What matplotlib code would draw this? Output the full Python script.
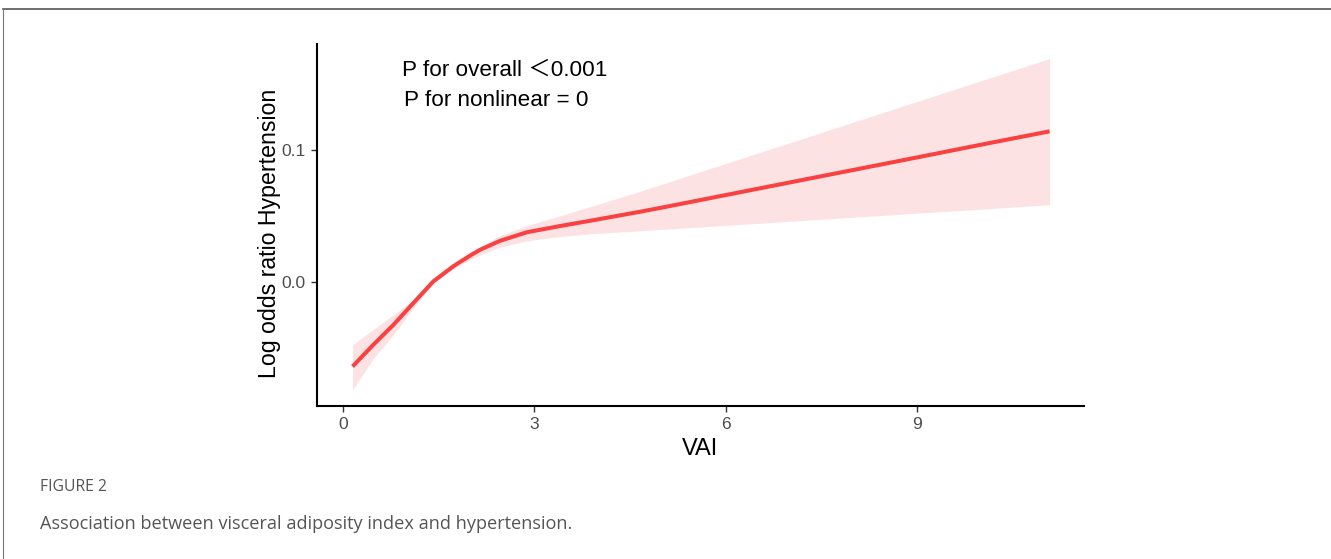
import matplotlib
matplotlib.use("Agg")
import matplotlib.pyplot as plt
from matplotlib.lines import Line2D

# Data
vai = [0.15, 0.475, 0.79, 1.10, 1.415, 1.73, 1.99, 2.15, 2.46, 2.88, 3.40, 3.92,
       4.65, 5.0, 6.0, 7.0, 8.0, 9.0, 10.0, 11.07]
log_or = [-0.0641, -0.0477, -0.0326, -0.0162, 0.0003, 0.0118, 0.0198, 0.0243,
          0.0310, 0.0375, 0.0422, 0.0466, 0.0530, 0.0562, 0.0657, 0.0752, 0.0847,
          0.0942, 0.1038, 0.1139]
upper = [-0.0477, -0.036, -0.025, -0.014, 0.0013, 0.0135, 0.0215, 0.0265, 0.0350,
         0.0425, 0.0500, 0.0576, 0.0684, 0.0739, 0.0896, 0.1052, 0.1209, 0.1366,
         0.1522, 0.169]
lower = [-0.0818, -0.058, -0.040, -0.020, -0.0008, 0.0098, 0.0168, 0.0205, 0.0262,
         0.0310, 0.0343, 0.0365, 0.0386, 0.0397, 0.0427, 0.0458, 0.0489, 0.052,
         0.055, 0.0583]
xticks = [0, 3, 6, 9]
yticks = [0.0, 0.1]
ytick_labels = ["0.0", "0.1"]

W, H = 1331, 559
fig = plt.figure(figsize=(W / 100, H / 100), dpi=100)
fig.patch.set_facecolor("white")

ax = fig.add_axes([317 / W, (H - 406) / H, (1084 - 317) / W, (406 - 44) / H])
ax.fill_between(vai, lower, upper, color="#FDE2E3", linewidth=0)
ax.plot(vai, log_or, color="#F94141", linewidth=2.9, solid_capstyle="butt",
        solid_joinstyle="round")

ax.set_xlim(-0.407, 11.61)
ax.set_ylim(-0.094, 0.180)
ax.set_xticks(xticks)
ax.set_yticks(yticks)
ax.set_yticklabels(ytick_labels)
for s in ["top", "right"]:
    ax.spines[s].set_visible(False)
for s in ["left", "bottom"]:
    ax.spines[s].set_linewidth(1.5)
    ax.spines[s].set_color("black")
ax.tick_params(axis="both", length=4, width=1.0, color="#333333",
               labelsize=12.5, labelcolor="#4d4d4d", pad=4)
for lab in ax.get_xticklabels() + ax.get_yticklabels():
    lab.set_family("Liberation Sans")

ax.set_xlabel("VAI", fontsize=17, family="Liberation Sans", labelpad=4)
ax.set_ylabel("Log odds ratio Hypertension", fontsize=16.7, family="Liberation Sans")
ax.yaxis.set_label_coords(-0.047, 0.478)

fig.text(402 / W, 1 - 70 / H, "P for overall \uFF1C0.001", fontsize=16.2,
         family=["Liberation Sans", "Noto Sans CJK SC"], va="center", ha="left")
fig.text(404 / W, 1 - 100 / H, "P for nonlinear = 0", fontsize=16.2,
         family="Liberation Sans", va="center", ha="left")

# Caption
fig.text(40 / W, 1 - 487 / H, "FIGURE 2", fontsize=11.3, family="Open Sans",
         color="#555555", va="center", ha="left")
fig.text(40 / W, 1 - 524 / H,
         "Association between visceral adiposity index and hypertension.",
         fontsize=13.1, family="Open Sans", color="#555555", va="center", ha="left")

# Page frame
fig.add_artist(Line2D([3 / W, 1.0], [1 - 9 / H, 1 - 9 / H], color="#555555",
                      linewidth=1.2, transform=fig.transFigure))
fig.add_artist(Line2D([3 / W, 3 / W], [0.0, 1 - 9 / H], color="#777777",
                      linewidth=0.8, transform=fig.transFigure))

fig.savefig("out.png", dpi=100, facecolor="white")
